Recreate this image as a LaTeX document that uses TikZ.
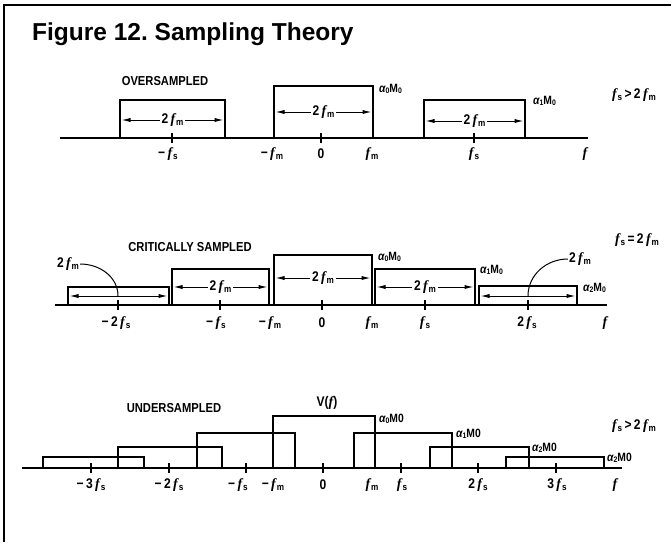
\documentclass[tikz,border=0pt]{standalone}
\usepackage{fontspec}
\setmainfont{Liberation Sans}
\newfontfamily\narrowfont[FakeStretch=0.86]{Liberation Sans}
\newfontfamily\ffont{Liberation Serif}
\usetikzlibrary{arrows.meta,calc}
\frenchspacing

\newcommand{\fv}{{\ffont\bfseries\itshape f}}
\newcommand{\lowr}[1]{\raisebox{-1.6pt}{\fontsize{9.5}{10}\selectfont #1}}
\newcommand{\fsx}{\fv\kern1pt\lowr{s}}
\newcommand{\fmx}{\fv\kern1pt\lowr{m}}
\newcommand{\amz}[1]{{\itshape α}\raisebox{-1.4pt}{\fontsize{8}{8}\selectfont #1}M\raisebox{-1.4pt}{\fontsize{8}{8}\selectfont 0}}
\newcommand{\amo}[1]{{\itshape α}\raisebox{-1.4pt}{\fontsize{8}{8}\selectfont #1}M0}

\begin{document}
\begin{tikzpicture}[
    x=1pt, y=-1pt,
    frame/.style    = {line width=2.6pt},
    axisline/.style = {line width=1.9pt},
    band/.style     = {line width=2.2pt, line join=miter},
    tick/.style     = {line width=1.5pt},
    span/.style     = {{Latex[length=9pt,width=4.2pt]}-{Latex[length=9pt,width=4.2pt]},
                       line width=1pt},
    pointer/.style  = {line width=1pt},
    head/.style     = {font=\narrowfont\bfseries\fontsize{13}{14}\selectfont,
                       inner sep=0pt},
    lbl/.style      = {font=\narrowfont\bfseries\fontsize{14}{15}\selectfont,
                       inner sep=1pt},
    spanlbl/.style  = {lbl, fill=white, inner sep=2pt},
    amp/.style      = {font=\narrowfont\bfseries\fontsize{12}{12}\selectfont,
                       anchor=west, inner sep=0pt},
    cond/.style     = {lbl}
]
\useasboundingbox (0,0) rectangle (671,542);

% --- Frame and title ---------------------------------------------------------
\draw[frame] (671,5) -- (4,5) -- (4,542);
\node[anchor=base west, inner sep=0pt,
      font=\bfseries\fontsize{24.5}{26}\selectfont] (title) at (32,40)
  {Figure 12. Sampling Theory};

% --- Oversampled -------------------------------------------------------------
\node[head] (ovhead) at (165,81) {OVERSAMPLED};
\coordinate (ovaxa) at (60,138);
\coordinate (ovaxb) at (588,138);
\draw[axisline] (ovaxa) -- (ovaxb);

\foreach \n/\xa/\xb/\yt/\ya in {l/120/225/100/120, c/274/373/86/112, r/424/525/100/121}{
  \draw[band] (\xa,138) |- (\xb,\yt) -- (\xb,138);
  \coordinate (ov\n w) at (\xa+1.5,\ya);
  \coordinate (ov\n e) at (\xb-1.5,\ya);
  \draw[span] (ov\n w) -- node[spanlbl]{2\,\fmx} (ov\n e);
}
\foreach \x in {172,321,474}
  \draw[tick] (\x,133) -- (\x,143);

\node[lbl] (ovmfs) at (168,154) {−\,\fsx};
\node[lbl] (ovmfm) at (272,154) {−\,\fmx};
\node[lbl] (ovzero) at (321,154) {0};
\node[lbl] (ovfm)  at (372,154) {\fmx};
\node[lbl] (ovfs)  at (474,154) {\fsx};
\node[lbl] (ovf)   at (585,154) {\fv};

\node[amp] (ova0) at (379,89) {\amz{0}};
\node[amp] (ova1) at (533,101) {\amz{1}};
\node[cond] (ovcond) at (634,95) {\fsx\,>\,2\,\fmx};

% --- Critically sampled ------------------------------------------------------
\node[head] (crhead) at (190,247) {CRITICALLY SAMPLED};
\coordinate (craxa) at (55,305);
\coordinate (craxb) at (607,305);
\draw[axisline] (craxa) -- (craxb);

\foreach \n/\xa/\xb/\yt/\ya in {a/68/169/287/296, b/172/269/269/287,
                                c/274/372/255/278, d/375/475/269/287,
                                e/479/577/286/296}{
  \draw[band] (\xa,305) |- (\xb,\yt) -- (\xb,305);
  \coordinate (cr\n w) at (\xa+1.5,\ya);
  \coordinate (cr\n e) at (\xb-1.5,\ya);
}
\draw[span] (craw) -- (crae);
\draw[span] (crew) -- (cree);
\foreach \n in {b,c,d}
  \draw[span] (cr\n w) -- node[spanlbl]{2\,\fmx} (cr\n e);

\foreach \x in {118,220,322,425,528}
  \draw[tick] (\x,300) -- (\x,310);

% pointers from the outer labels down to the ticks
\node[lbl] (crpl) at (68,264) {2\,\fmx};
\node[lbl] (crpr) at (580,259) {2\,\fmx};
\coordinate (crpla) at (118,296);
\coordinate (crpra) at (528,296);
\draw[pointer] (crpl.east) to[out=0, in=90] (crpla);
\draw[pointer] (crpr.west) to[out=180, in=90] (crpra);

\node[lbl] (crm2fs) at (116,323) {−\,2\,\fsx};
\node[lbl] (crmfs)  at (216,323) {−\,\fsx};
\node[lbl] (crmfm)  at (270,323) {−\,\fmx};
\node[lbl] (crzero) at (322,323) {0};
\node[lbl] (crfm)   at (372,323) {\fmx};
\node[lbl] (crfs)   at (425,323) {\fsx};
\node[lbl] (cr2fs)  at (527,323) {2\,\fsx};
\node[lbl] (crf)    at (605,323) {\fv};

\node[amp] (cra0) at (378,257) {\amz{0}};
\node[amp] (cra1) at (480,270) {\amz{1}};
\node[amp] (cra2) at (583,288) {\amz{2}};
\node[cond] (crcond) at (637,240) {\fsx\,=\,2\,\fmx};

% --- Undersampled ------------------------------------------------------------
\node[head] (unhead) at (174,408) {UNDERSAMPLED};
\coordinate (unaxa) at (22,468);
\coordinate (unaxb) at (622,468);
\draw[axisline] (unaxa) -- (unaxb);

\foreach \xa/\xb/\yt in {43/144/457, 118/222/447, 197/295/433, 273/375/416,
                         354/452/433, 430/529/447, 506/604/457}
  \draw[band] (\xa,468) |- (\xb,\yt) -- (\xb,468);

\foreach \x in {91,169,246,323,401,478,556}
  \draw[tick] (\x,463) -- (\x,473);

\node[lbl] (unvf) at (327,403) {V(\fv)};

\node[lbl] (unm3fs) at (91,485)  {−\,3\,\fsx};
\node[lbl] (unm2fs) at (169,485) {−\,2\,\fsx};
\node[lbl] (unmfs)  at (238,485) {−\,\fsx};
\node[lbl] (unmfm)  at (273,485) {−\,\fmx};
\node[lbl] (unzero) at (323,485) {0};
\node[lbl] (unfm)   at (372,485) {\fmx};
\node[lbl] (unfs)   at (402,485) {\fsx};
\node[lbl] (un2fs)  at (478,485) {2\,\fsx};
\node[lbl] (un3fs)  at (557,485) {3\,\fsx};
\node[lbl] (unf)    at (615,485) {\fv};

\node[amp] (una0) at (379,419) {\amo{0}};
\node[amp] (una1) at (456,434) {\amo{1}};
\node[amp] (una2) at (532,448) {\amo{2}};
\node[amp] (una3) at (607,458) {\amo{2}};
\node[cond] (uncond) at (634,426) {\fsx\,>\,2\,\fmx};

\end{tikzpicture}
\end{document}
